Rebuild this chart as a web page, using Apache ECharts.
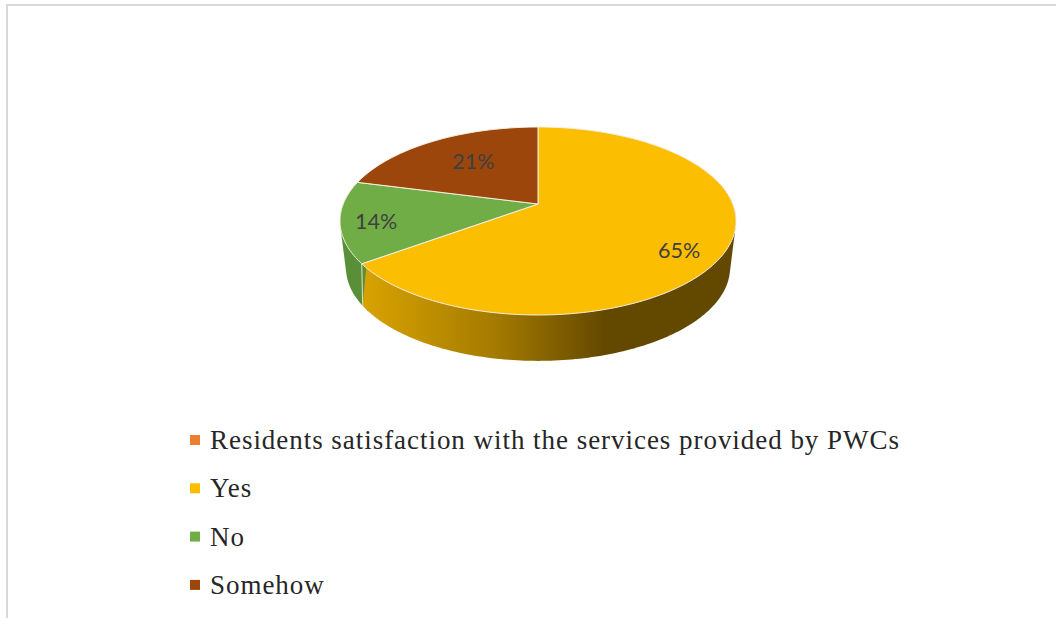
<!DOCTYPE html>
<html>
<head>
<meta charset="utf-8">
<title>Residents satisfaction with the services provided by PWCs</title>
<script src="https://cdn.jsdelivr.net/npm/echarts@6/dist/echarts.min.js"></script>
<style>
html, body { margin: 0; padding: 0; background: #fff; }
#chart { width: 1056px; height: 618px; }
/* Legend entries are set slightly tracked */
#chart svg text[style*="Liberation Serif"] { letter-spacing: 0.96px; }
</style>
</head>
<body>
<div id="chart"></div>
<script>
// Survey shares, in percent
const legendTitle = 'Residents satisfaction with the services provided by PWCs';
const categories = ['Yes', 'No', 'Somehow'];
const shares = [65, 14, 21];

// Appearance of each slice
const topColors = ['#FCBE00', '#70AD47', '#9C460B'];
const wallColors = [
  [[0, '#D9A300'], [0.35, '#A67C00'], [0.65, '#634900'], [1, '#634900']],
  [[0, '#5A8F3A'], [1, '#5A8F3A']],
  [[0, '#7D3809'], [1, '#7D3809']]
];
const labelPlacement = [
  { angle: 125, radius: 0.81 },
  { angle: 257, radius: 0.825 },
  { angle: 325, radius: 0.633 }
];

// Perspective disc: a unit circle projected so the near edge looks larger
const disc = { cx: 538, cy: 204, rx: 194.7, ry: 90.9, tilt: 0.181, baseDrop: 47, baseRy: 90, baseScale: 0.97, baseTwist: 0.05 };

function project(angleDeg, r) {
  const t = angleDeg * Math.PI / 180;
  const u = r * Math.sin(t), v = r * Math.cos(t);
  const w = 1 + disc.tilt * v;
  return { x: disc.cx + disc.rx * u / w, y: disc.cy - disc.ry * v / w, u: u, v: v, w: w };
}
function rimPoint(a) { const p = project(a, 1); return [p.x, p.y]; }
// The lower rim is a smaller copy of the top rim; wall edges converge downward
function basePoint(a) {
  const p = project(a + (a - 180) * disc.baseTwist, 1);
  return [
    disc.cx + (p.x - disc.cx) * disc.baseScale,
    disc.cy + disc.baseDrop - disc.baseRy * p.v / p.w
  ];
}
function sweep(from, to, fn) {
  const pts = [];
  const n = Math.max(2, Math.ceil(Math.abs(to - from)));
  for (let i = 0; i <= n; i++) pts.push(fn(from + (to - from) * i / n));
  return pts;
}
// Outline of a wall: the convex hull of its upper and lower rim arcs
function hull(points) {
  const pts = points.slice().sort((a, b) => a[0] - b[0] || a[1] - b[1]);
  const cross = (o, a, b) => (a[0] - o[0]) * (b[1] - o[1]) - (a[1] - o[1]) * (b[0] - o[0]);
  const half = list => {
    const out = [];
    list.forEach(p => {
      while (out.length >= 2 && cross(out[out.length - 2], out[out.length - 1], p) <= 0) out.pop();
      out.push(p);
    });
    out.pop();
    return out;
  };
  return half(pts).concat(half(pts.slice().reverse()));
}

const total = shares.reduce((a, b) => a + b, 0);

function renderSlice(params, api) {
  const idx = api.value(2);
  const start = api.value(1) / total * 360;
  const end = start + api.value(0) / total * 360;
  const children = [];

  // Outer wall, limited to the part of the rim facing the viewer
  const wallFrom = Math.max(start, 75);
  const wallTo = Math.min(end, 285);
  if (wallTo > wallFrom) {
    const pts = hull(sweep(wallFrom, wallTo, rimPoint).concat(sweep(wallTo, wallFrom, basePoint)));
    children.push({
      type: 'polygon',
      z2: 1,
      shape: { points: pts },
      style: {
        fill: new echarts.graphic.LinearGradient(
          360, 0, 736, 0,
          wallColors[idx].map(s => ({ offset: s[0], color: s[1] })), true),
        stroke: null
      }
    });
    if (idx === 1) {
      // hairline between the neighbouring walls
      children.push({
        type: 'line',
        z2: 2,
        shape: { x1: rimPoint(wallFrom)[0], y1: rimPoint(wallFrom)[1], x2: basePoint(wallFrom)[0], y2: basePoint(wallFrom)[1] },
        style: { stroke: '#E8DFC0', lineWidth: 1 }
      });
    }
  }

  // Top face
  const face = [[disc.cx, disc.cy]].concat(sweep(start, end, rimPoint));
  children.push({
    type: 'polygon',
    z2: 3,
    shape: { points: face },
    style: { fill: topColors[idx], stroke: '#F4EFE2', lineWidth: 1, lineJoin: 'round' }
  });

  // Percentage label
  const place = project(labelPlacement[idx].angle, labelPlacement[idx].radius);
  children.push({
    type: 'text',
    z2: 4,
    style: {
      x: place.x, y: place.y,
      text: api.value(0) + '%',
      fill: '#404040',
      font: '21.5px Lato',
      align: 'center',
      verticalAlign: 'middle'
    }
  });
  return { type: 'group', children: children };
}

const starts = shares.map((_, i) => shares.slice(0, i).reduce((a, b) => a + b, 0));

const series = [{
  type: 'custom',
  name: legendTitle,
  coordinateSystem: 'none',
  itemStyle: { color: '#ED7D31' },
  renderItem: () => ({ type: 'group', children: [] }),
  data: []
}].concat(categories.map((name, i) => ({
  type: 'custom',
  name: name,
  coordinateSystem: 'none',
  itemStyle: { color: topColors[i] },
  renderItem: renderSlice,
  silent: true,
  data: [[shares[i], starts[i], i]]
})));

const chart = echarts.init(document.getElementById('chart'), null, { renderer: 'svg' });
chart.setOption({
  animation: false,
  backgroundColor: '#ffffff',
  graphic: [
    { type: 'rect', shape: { x: 6, y: 4, width: 1050, height: 2 }, style: { fill: '#D9D9D9' } },
    { type: 'rect', shape: { x: 6, y: 4, width: 2, height: 614 }, style: { fill: '#D9D9D9' } }
  ],
  legend: {
    orient: 'vertical',
    left: 190,
    top: 425,
    padding: 0,
    itemWidth: 10,
    itemHeight: 10,
    itemGap: 18.3,
    icon: 'rect',
    selectedMode: false,
    data: [legendTitle].concat(categories),
    textStyle: {
      fontFamily: 'Liberation Serif',
      fontSize: 27,
      lineHeight: 30,
      color: '#262626',
      padding: [0, 0, 0, 5]
    }
  },
  series: series
});
</script>
</body>
</html>
